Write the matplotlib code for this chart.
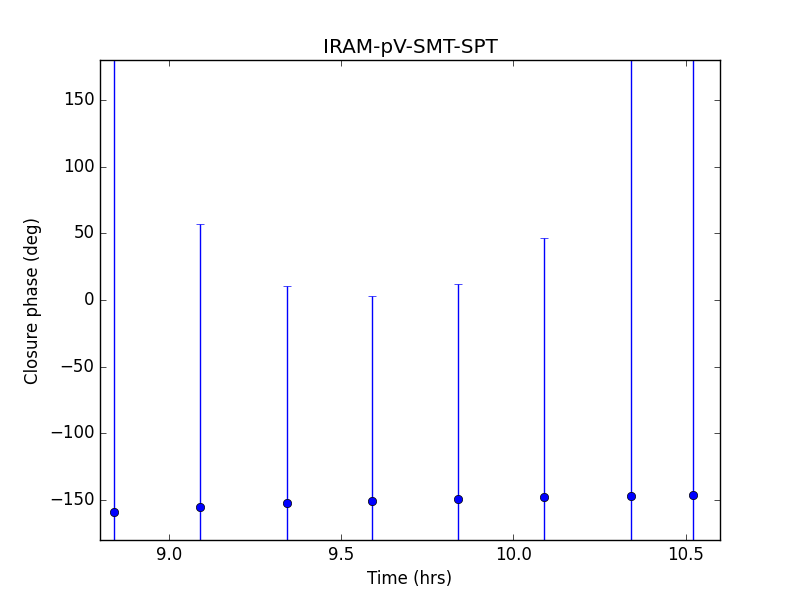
import matplotlib
matplotlib.use("Agg")
import matplotlib.pyplot as plt
import numpy as np

# closure phase data
times = [8.84, 9.09, 9.343, 9.59, 9.84, 10.09, 10.342, 10.522]
cphase = [-159.0, -155.2, -152.2, -150.7, -149.2, -147.7, -147.0, -146.2]
cphase_err = [400.0, 212.0, 163.0, 153.5, 161.0, 194.5, 400.0, 400.0]

def main():
    plt.style.use("classic")
    fig = plt.figure(figsize=(8, 6))
    ax = fig.add_subplot(111)
    ax.errorbar(times, cphase, yerr=cphase_err, fmt="o", color="b", capsize=3)
    ax.set_xlim(8.8, 10.6)
    ax.set_ylim(-180, 180)
    ax.set_xticks([9.0, 9.5, 10.0, 10.5])
    ax.set_xlabel("Time (hrs)")
    ax.set_ylabel("Closure phase (deg)")
    ax.set_title("IRAM-pV-SMT-SPT")
    fig.savefig("out.png", dpi=100)

if __name__ == "__main__":
    main()
